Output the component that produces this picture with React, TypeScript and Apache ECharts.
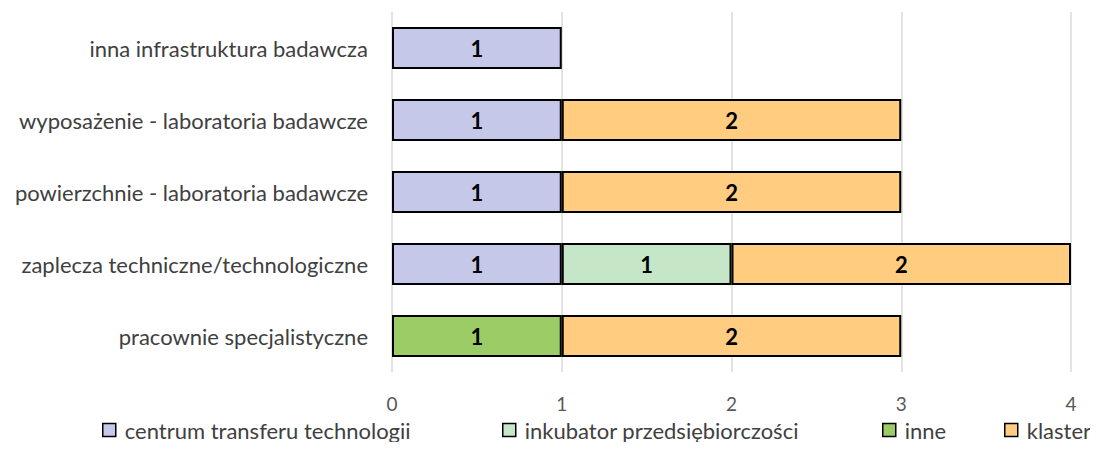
import React, { useEffect, useRef } from "react";
import * as echarts from "echarts";

const categories = [
  "pracownie specjalistyczne",
  "zaplecza techniczne/technologiczne",
  "powierzchnie - laboratoria badawcze",
  "wyposażenie - laboratoria badawcze",
  "inna infrastruktura badawcza",
];
const seriesNames = [
  "centrum transferu technologii",
  "inkubator przedsiębiorczości",
  "inne",
  "klaster",
];
const centrum = [null, 1, 1, 1, 1];
const inkubator = [null, 1, null, null, null];
const inne = [1, null, null, null, null];
const klaster = [2, 2, 2, 2, null];
const xTicks = [0, 1, 2, 3, 4];

const colors = ["#c5c8e8", "#c6e6c8", "#9ccc65", "#ffcc80"];
const FONT = "Lato, 'Open Sans', sans-serif";

export default function App() {
  const ref = useRef<HTMLDivElement>(null);
  useEffect(() => {
    if (!ref.current) return;
    const chart = echarts.init(ref.current, null, { renderer: "svg" });
    const data = [centrum, inkubator, inne, klaster];
    const legendLefts = [102, 502, 882, 1004];
    chart.setOption({
      animation: false,
      textStyle: { fontFamily: FONT },
      grid: { left: 392, right: 27, top: 12, bottom: 78 },
      xAxis: {
        type: "value",
        min: xTicks[0],
        max: xTicks[xTicks.length - 1],
        interval: 1,
        axisLine: { show: false },
        axisTick: { show: false },
        splitLine: { lineStyle: { color: "#d9d9d9", width: 1.5 } },
        axisLabel: { color: "#595959", fontSize: 19, margin: 22, fontFamily: FONT },
      },
      yAxis: {
        type: "category",
        data: categories,
        axisLine: { show: false },
        axisTick: { show: false },
        axisLabel: { color: "#404040", fontSize: 22, margin: 24, fontFamily: FONT },
      },
      legend: seriesNames.map((n, i) => ({
        data: [n],
        left: legendLefts[i],
        top: 417,
        padding: 0,
        itemWidth: 13,
        itemHeight: 13,
        icon: "rect",
        textStyle: {
          fontSize: 22,
          lineHeight: 26,
          color: "#404040",
          fontFamily: FONT,
          padding: [0, 0, 0, 4],
        },
        itemStyle: { borderColor: "#000", borderWidth: 1.5 },
      })),
      series: seriesNames.map((n, i) => ({
        name: n,
        type: "bar",
        stack: "total",
        barWidth: 42,
        data: data[i],
        itemStyle: { color: colors[i], borderColor: "#000", borderWidth: 2 },
        label: {
          show: true,
          position: "inside",
          color: "#000",
          fontWeight: "bold",
          fontSize: 22,
          fontFamily: FONT,
        },
      })),
    });
    return () => chart.dispose();
  }, []);
  return <div ref={ref} style={{ width: 1098, height: 450, margin: -8 }} />;
}
